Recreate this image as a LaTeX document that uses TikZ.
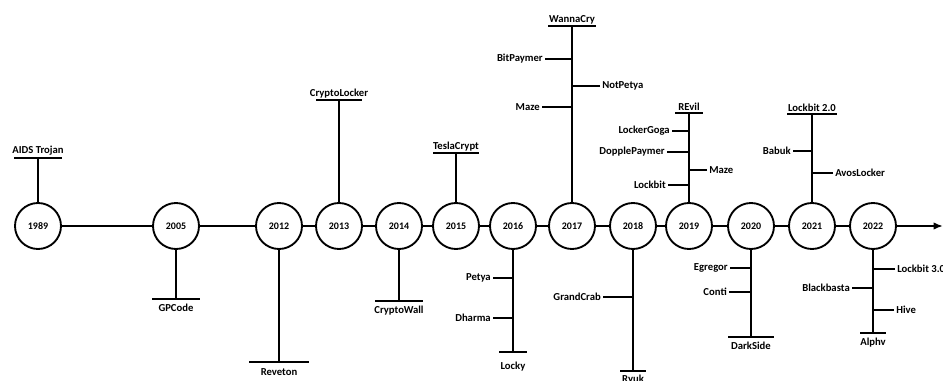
\documentclass[tikz,border=0pt]{standalone}
\usepackage{fontspec}
\setmainfont{Carlito}
\usepackage{tikz}
\usetikzlibrary{arrows.meta,calc}

\tikzset{
  yearnode/.style={circle,draw,line width=1.4pt,minimum size=34.5pt,inner sep=0pt,
    font=\bfseries\fontsize{7.5}{8}\selectfont},
  timeline/.style={line width=1.4pt},
  stem/.style={line width=0.8pt},
  lbl/.style={font=\bfseries\fontsize{8}{9}\selectfont,inner sep=1.5pt}
}

\begin{document}
\begin{tikzpicture}[x=0.75pt,y=-0.75pt]
\useasboundingbox (0,0) rectangle (943,381);
% years on the time line
\foreach \x/\yr in {38/1989,176/2005,279/2012,339/2013,399/2014,456/2015,513/2016,
    572/2017,633/2018,689/2019,751/2020,812/2021,873/2022}
  \node[yearnode] (y\yr) at (\x,226) {\yr};
\foreach \a/\b in {1989/2005,2005/2012,2012/2013,2013/2014,2014/2015,2015/2016,
    2016/2017,2017/2018,2018/2019,2019/2020,2020/2021,2021/2022}
  \draw[timeline] (y\a) -- (y\b);
\coordinate (tend) at (943,226);
\draw[timeline,-{Latex[length=2.5mm,width=2mm]}] (y2022) -- (tend);
% stems with end bars
\foreach \yr/\by/\hw/\pos/\off/\txt in {1989/158/24/above/0/AIDS Trojan,
    2013/100/23/above/0/CryptoLocker,2015/153/23/above/0/TeslaCrypt,
    2017/26/24/above/0/WannaCry,2019/113/14/above/0/REvil,2021/114/25/above/0/Lockbit 2.0,
    2005/299/24/below/-2/GPCode,2012/362/30/below/-3/Reveton,
    2014/301/24/below/-2/CryptoWall,2016/352/14/below/-6/Locky,
    2018/371/13/below/-1/Ryuk,2020/337/23/below/-2/DarkSide,
    2022/333/13/below/-2/Alphv}{
  \coordinate (b\yr) at (y\yr.center |- 0,\by);
  \draw[stem] (y\yr) -- (b\yr);
  \draw[stem] (b\yr) ++(-\hw,0) -- ++(2*\hw,0);
  \node[lbl,\pos,yshift=\off pt] (l\yr) at (b\yr) {\txt};
}
% side branches, left of the stem
\foreach \yr/\by/\len/\nm/\txt in {2016/278/20/petya/Petya,2016/318/20/dharma/Dharma,
    2017/59/27/bitpaymer/BitPaymer,2017/107/30/mazeA/Maze,
    2018/297/30/grandcrab/GrandCrab,2019/131/17/lockergoga/LockerGoga,
    2019/152/22/dopple/DopplePaymer,2019/185/21/lockbitA/Lockbit,
    2020/268/21/egregor/Egregor,2020/292/22/conti/Conti,
    2021/151/19/babuk/Babuk,2022/288/21/blackbasta/Blackbasta}{
  \coordinate (j\nm) at (y\yr.center |- 0,\by);
  \node[lbl,left] (\nm) at ($(j\nm)+(-\len,0)$) {\txt};
  \draw[stem] (\nm) -- (j\nm);
}
% side branches, right of the stem
\foreach \yr/\by/\len/\nm/\txt in {2017/86/28/notpetya/NotPetya,2019/170/18/mazeB/Maze,
    2021/173/21/avos/AvosLocker,2022/269/22/lockbitC/Lockbit 3.0,2022/310/21/hive/Hive}{
  \coordinate (j\nm) at (y\yr.center |- 0,\by);
  \node[lbl,right] (\nm) at ($(j\nm)+(\len,0)$) {\txt};
  \draw[stem] (\nm) -- (j\nm);
}
\end{tikzpicture}
\end{document}
